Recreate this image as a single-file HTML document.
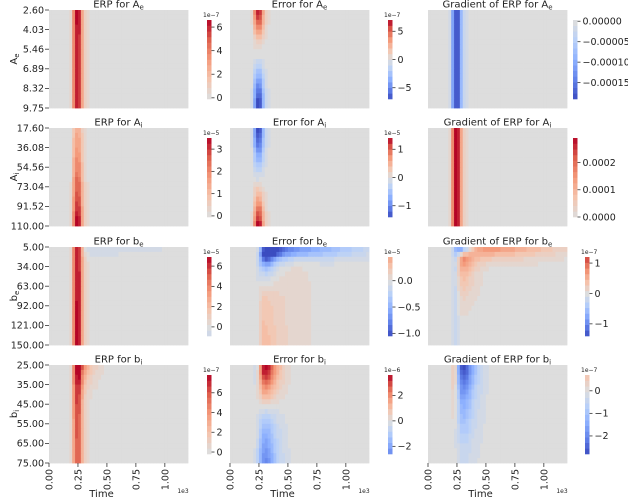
<!DOCTYPE html>
<html><head><meta charset="utf-8"><style>
html,body{margin:0;padding:0;background:#fff;}
svg{display:block;font-family:"DejaVu Sans","Liberation Sans",sans-serif;}
</style></head><body>
<svg id="fig" width="628" height="500" viewBox="0 0 628 500" xmlns="http://www.w3.org/2000/svg"></svg>
<script>
// ---- shared time profiles (48 columns, step 0.025 from 0 to 1.2) ----
const PEAK=[0,0,0,0,0,0,0,0.05,0.6,1,0.95,0.45,0.15,0.05,0.02,0,0,0,0,0,0,0,0,0,0,0,0,0,0,0,0,0,0,0,0,0,0,0,0,0,0,0,0,0,0,0,0,0];
const TAIL_LONG=[0,0,0,0,0,0,0,0,0,0,0.2,0.6,1,1,0.95,0.9,0.86,0.82,0.78,0.75,0.72,0.69,0.66,0.63,0.6,0.58,0.56,0.54,0.52,0.5,0.48,0.46,0.44,0.42,0.4,0.38,0.36,0.34,0.32,0.3,0.28,0.26,0.24,0.22,0.2,0.18,0.16,0.14];
const TAIL_MED=[0,0,0,0,0,0,0,0,0,0,0.5,1,0.95,0.9,0.85,0.8,0.75,0.7,0.65,0.6,0.55,0.5,0.46,0.42,0.38,0.34,0.3,0.26,0.22,0.18,0.14,0.1,0.07,0.04,0.02,0,0,0,0,0,0,0,0,0,0,0,0,0];
const LATE_PEAK=[0,0,0,0,0,0,0,0,0,0.2,0.6,0.95,1,0.9,0.7,0.5,0.35,0.25,0.17,0.1,0.06,0.03,0,0,0,0,0,0,0,0,0,0,0,0,0,0,0,0,0,0,0,0,0,0,0,0,0,0];
const EARLY=[0,0,0,0,0,0,0,0,0.6,1,0.4,0,0,0,0,0,0,0,0,0,0,0,0,0,0,0,0,0,0,0,0,0,0,0,0,0,0,0,0,0,0,0,0,0,0,0,0,0];

// ---- row profiles (20 rows, top to bottom), in colorbar units ----
const erpApRows=[6.5,6.4,6.4,6.3,6.3,6.2,6.2,6.2,6.1,6.1,6.1,6,6,6,6,6,6,5.9,5.9,5.9];
const errApRows=[6.5,6,5,4,3,2,1.2,0.5,0.1,-0.2,-0.8,-1.6,-2.4,-3.2,-4,-4.8,-5.6,-6.2,-6.8,-7];
const gradApRows=[-0.00018,-0.00018,-0.00018,-0.00018,-0.00018,-0.00018,-0.00018,-0.00018,-0.00018,-0.00018,-0.00018,-0.00018,-0.00018,-0.00018,-0.00018,-0.00018,-0.00018,-0.00018,-0.00018,-0.00018];
const erpAiRows=[1.2,1.4,1.5,1.6,1.7,1.8,1.9,2,2.1,2.2,2.4,2.5,2.6,2.7,2.8,2.9,3.1,3.2,3.4,3.5];
const errAiRows=[-1.4,-1.3,-1.2,-1.1,-0.9,-0.75,-0.6,-0.45,-0.3,-0.15,-0.05,0.1,0.25,0.4,0.55,0.7,0.9,1.05,1.2,1.4];
const gradAiRows=[0.00028,0.00028,0.00028,0.00028,0.00028,0.00028,0.00028,0.00028,0.00028,0.00028,0.00028,0.00028,0.00028,0.00028,0.00028,0.00028,0.00028,0.00028,0.00028,0.00028];
const erpBeRows=[6.2,6.3,6.3,6.4,6.4,6.5,6.5,6.5,6.6,6.6,6.6,6.7,6.7,6.7,6.8,6.8,6.8,6.8,6.9,6.9];
const erpBeTailRows=[-0.8,-0.4,-0.15,0,0,0,0,0,0,0,0,0,0,0,0,0,0,0,0,0];
const errBeTopRows=[-1.05,-0.75,-0.3,-0.1,0,0,0,0,0,0,0,0,0,0,0,0,0,0,0,0];
const errBePeakRows=[-0.4,-0.7,-0.7,-0.6,-0.45,-0.32,-0.22,-0.14,-0.07,0,0.03,0.05,0.07,0.08,0.09,0.1,0.11,0.12,0.13,0.14];
const errBeRedRows=[0,0,0.04,0.08,0.11,0.13,0.14,0.15,0.16,0.16,0.17,0.17,0.17,0.17,0.17,0.17,0.17,0.17,0.17,0.17];
const gradBeTopRows=[1.1,0.7,0.35,0.15,0.05,0,0,0,0,0,0,0,0,0,0,0,0,0,0,0];
const gradBePeakRows=[-1.4,-0.3,0.4,0.5,0.45,0.4,0.35,0.3,0.25,0.2,0.15,0.1,0.08,0.06,0.04,0.02,0,0,0,0];
const gradBeEarlyRows=[-0.3,-0.3,-0.25,-0.25,-0.25,-0.2,-0.2,-0.2,-0.2,-0.2,-0.2,-0.2,-0.2,-0.2,-0.2,-0.2,-0.2,-0.2,-0.2,-0.2];
const erpBiRows=[7.8,7.5,7.2,7,6.8,6.6,6.5,6.4,6.3,6.2,6.1,6,6,5.9,5.9,5.8,5.8,5.7,5.7,5.6];
const erpBiTailRows=[2.5,2,1.5,1.1,0.8,0.5,0.3,0.15,0.05,0,0,0,0,0,0,0,0,0,0,0];
const errBiRows=[3.6,3.4,3,2.5,2,1.5,1,0.5,0,-0.4,-0.8,-1.1,-1.4,-1.6,-1.8,-2,-2.1,-2.2,-2.4,-2.5];
const errBiEarlyRows=[-0.6,-0.5,-0.4,-0.3,-0.2,-0.1,0,0,0,0,0,0,0,0,0,0,-0.2,-0.3,-0.3,-0.4];
const gradBiRows=[-2.7,-2.6,-2.4,-2.2,-2,-1.8,-1.6,-1.4,-1.3,-1.2,-1.1,-1,-0.9,-0.8,-0.7,-0.6,-0.5,-0.45,-0.4,-0.35];
const gradBiEarlyRows=[0.7,0.65,0.6,0.55,0.5,0.45,0.4,0.35,0.3,0.25,0.2,0.15,0.1,0.05,0,0,0,0,0,0];

// ---- axis tick labels ----
const yTicks=[["2.60","4.03","5.46","6.89","8.32","9.75"],["17.60","36.08","54.56","73.04","91.52","110.00"],["5.00","34.00","63.00","92.00","121.00","150.00"],["25.00","35.00","45.00","55.00","65.00","75.00"]];
const xTickVals=[0,0.25,0.5,0.75,1.0];
const xTickLabels=["0.00","0.25","0.50","0.75","1.00"];
const paramNames=[["A","e"],["A","i"],["b","e"],["b","i"]];

const panels=[
 [{t:"ERP for ",c:[[erpApRows,PEAK]],cmin:-0.1,cmax:6.6,ticks:[0,2,4,6],lab:["0","2","4","6"],exp:"1e−7"},
  {t:"Error for ",c:[[errApRows,PEAK]],cmin:-7,cmax:7,ticks:[-5,0,5],lab:["−5","0","5"],exp:"1e−7"},
  {t:"Gradient of ERP for ",c:[[gradApRows,PEAK]],cmin:-0.00019,cmax:0.000003,ticks:[0,-0.00005,-0.0001,-0.00015],lab:["0.00000","−0.00005","−0.00010","−0.00015"],exp:""}],
 [{t:"ERP for ",c:[[erpAiRows,PEAK]],cmin:-0.05,cmax:3.5,ticks:[0,1,2,3],lab:["0","1","2","3"],exp:"1e−5"},
  {t:"Error for ",c:[[errAiRows,PEAK]],cmin:-1.4,cmax:1.4,ticks:[-1,0,1],lab:["−1","0","1"],exp:"1e−5"},
  {t:"Gradient of ERP for ",c:[[gradAiRows,PEAK]],cmin:0,cmax:0.00029,ticks:[0,0.0001,0.0002],lab:["0.0000","0.0001","0.0002"],exp:""}],
 [{t:"ERP for ",c:[[erpBeRows,PEAK],[erpBeTailRows,TAIL_LONG]],cmin:-0.9,cmax:6.9,ticks:[0,2,4,6],lab:["0","2","4","6"],exp:"1e−5"},
  {t:"Error for ",c:[[errBeTopRows,TAIL_LONG],[errBePeakRows,LATE_PEAK],[errBeRedRows,TAIL_MED]],cmin:-1.05,cmax:0.45,ticks:[-1,-0.5,0],lab:["−1.0","−0.5","0.0"],exp:"1e−5"},
  {t:"Gradient of ERP for ",c:[[gradBeTopRows,TAIL_LONG],[gradBePeakRows,LATE_PEAK],[gradBeEarlyRows,EARLY]],cmin:-1.4,cmax:1.2,ticks:[-1,0,1],lab:["−1","0","1"],exp:"1e−7"}],
 [{t:"ERP for ",c:[[erpBiRows,PEAK],[erpBiTailRows,LATE_PEAK]],cmin:-0.2,cmax:7.8,ticks:[0,2,4,6],lab:["0","2","4","6"],exp:"1e−7"},
  {t:"Error for ",c:[[errBiRows,LATE_PEAK],[errBiEarlyRows,EARLY]],cmin:-2.6,cmax:3.6,ticks:[-2,0,2],lab:["−2","0","2"],exp:"1e−6"},
  {t:"Gradient of ERP for ",c:[[gradBiRows,LATE_PEAK],[gradBiEarlyRows,EARLY]],cmin:-2.8,cmax:0.7,ticks:[-2,-1,0],lab:["−2","−1","0"],exp:"1e−7"}]
];

const NS="http://www.w3.org/2000/svg";
const svg=document.getElementById('fig');
function mk(tag,attrs,parent){const e=document.createElementNS(NS,tag);for(const k in attrs)e.setAttribute(k,attrs[k]);(parent||svg).appendChild(e);return e;}
const CM=[[-1,59,76,192],[-0.75,98,130,234],[-0.5,141,176,254],[-0.25,184,208,249],[0,221,221,221],[0.25,245,196,173],[0.5,244,154,123],[0.75,222,96,77],[1,180,4,38]];
function cw(n){n=Math.max(-1,Math.min(1,n));for(let i=0;i<CM.length-1;i++){const a=CM[i],b=CM[i+1];if(n<=b[0]){const f=(n-a[0])/(b[0]-a[0]);return `rgb(${Math.round(a[1]+f*(b[1]-a[1]))},${Math.round(a[2]+f*(b[2]-a[2]))},${Math.round(a[3]+f*(b[3]-a[3]))})`;}}return "rgb(180,4,38)";}
function quant(n){return Math.round(n*14)/14;}

const colX=[49,230,428], colW=139;
const rowY=[10,128,247,365], rowH=98;
const cbX=[[207,388,573],[207,388,573],[207,388,585],[207,388,585]];
const NT=48, NR=20, TMAX=1.2;

for(let r=0;r<4;r++){for(let c=0;c<3;c++){
  const p=panels[r][c];const x0=colX[c],y0=rowY[r];
  const g=mk('g',{});
  
  
  const vmax=Math.max(Math.abs(p.cmin),Math.abs(p.cmax));
  const xs=t=>x0+t/TMAX*colW;
  const cw_=colW/NT,ch=rowH/NR;
  for(let i=0;i<NR;i++)for(let j=0;j<NT;j++){
    let v=0;for(const comp of p.c)v+=comp[0][i]*comp[1][j];
    const cell=mk('rect',{x:(x0+j*cw_).toFixed(2),y:(y0+i*ch).toFixed(2),width:(cw_+0.4).toFixed(2),height:(ch+0.4).toFixed(2),fill:cw(quant(v/vmax))},g);
    
    
  }
  const tt=mk('text',{x:x0+colW/2,y:y0-2.5,'text-anchor':'middle','font-size':10,fill:'#222'});
  
  
  tt.textContent=p.t+paramNames[r][0];
  const sub=mk('tspan',{'font-size':7,dy:2},tt);sub.textContent=paramNames[r][1];
  if(c===0){
    for(let k=0;k<6;k++){const yy=y0+k*rowH/5;
      mk('line',{x1:x0-4,x2:x0,y1:yy,y2:yy,stroke:'#333','stroke-width':0.8});
      const tl=mk('text',{x:x0-5,y:yy+3.3,'text-anchor':'end','font-size':9.5,fill:'#222'});
      
      
      tl.textContent=yTicks[r][k];}
    const yl=mk('text',{x:0,y:0,transform:`translate(17,${y0+rowH/2}) rotate(-90)`,'text-anchor':'middle','font-size':10,fill:'#222'});
    
    
    yl.textContent=paramNames[r][0];
    const ys=mk('tspan',{'font-size':7,dy:2},yl);ys.textContent=paramNames[r][1];
  }
  if(r===3){
    xTickVals.forEach((tv,k)=>{const xx=xs(tv);
      mk('line',{x1:xx,x2:xx,y1:y0+rowH,y2:y0+rowH+4,stroke:'#333','stroke-width':0.8});
      const xl=mk('text',{x:0,y:0,transform:`translate(${xx+3.5},${y0+rowH+6}) rotate(-90)`,'text-anchor':'end','font-size':9.5,fill:'#222'});
      
      
      xl.textContent=xTickLabels[k];});
    const xt=mk('text',{x:x0+colW/2-17,y:497,'text-anchor':'middle','font-size':10,fill:'#222'});
    
    
    xt.textContent='Time';
    const xe=mk('text',{x:x0+colW-5,y:493,'text-anchor':'middle','font-size':6,fill:'#222'});
    
    
    xe.textContent='1e3';
  }
  const bx=cbX[r][c],by=y0+10,bh=79,bw=4.5;
  const cb=mk('g',{});
  
  
  const NB=14;
  for(let b=0;b<NB;b++){
    const v=p.cmin+(b+0.5)/NB*(p.cmax-p.cmin);
    mk('rect',{x:bx,y:(by+bh-(b+1)*bh/NB).toFixed(2),width:bw,height:(bh/NB+0.3).toFixed(2),fill:cw(v/vmax)},cb);
  }
  p.ticks.forEach((tv,k)=>{const yy=by+bh-(tv-p.cmin)/(p.cmax-p.cmin)*bh;
    mk('line',{x1:bx+bw,x2:bx+bw+3,y1:yy,y2:yy,stroke:'#333','stroke-width':0.8},cb);
    const cl=mk('text',{x:bx+bw+5,y:yy+3.3,'font-size':9.5,fill:'#222'},cb);
    
    
    cl.textContent=p.lab[k];});
  if(p.exp){const ce=mk('text',{x:bx-4,y:by-3,'font-size':6,fill:'#222'},cb);
    
    
    ce.textContent=p.exp;}
}}
</script>
</body></html>
